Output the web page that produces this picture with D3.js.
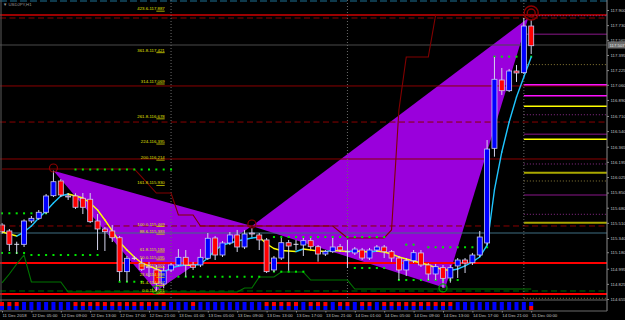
<!DOCTYPE html>
<html>
<head>
<meta charset="utf-8">
<script src="https://cdn.jsdelivr.net/npm/d3@7"></script>
<style>
html, body { margin: 0; padding: 0; background: #000; }
svg { display: block; font-family: "Liberation Sans", Arial, sans-serif; }
</style>
</head>
<body>
<div id="chart"></div>
<script>

// ---- data (USDJPY H1) ----
var opens = [
 115.486, 115.419, 115.269, 115.269, 115.531, 115.561, 115.629, 115.815, 115.980, 115.812,
 115.812, 115.786, 115.775, 115.531, 115.441, 115.419, 115.343, 114.962, 115.112, 115.056,
 115.018, 114.981, 114.824, 114.981, 115.037, 115.123, 115.037, 115.037, 115.112, 115.340,
 115.149, 115.284, 115.374, 115.239, 115.396, 115.374, 115.318, 114.981, 115.115, 115.287,
 115.269, 115.261, 115.310, 115.242, 115.160, 115.186, 115.242, 115.186, 115.172, 115.205,
 115.115, 115.205, 115.239, 115.186, 115.115, 114.981, 115.085, 115.172, 115.037, 114.936,
 115.007, 114.891, 115.026, 115.093, 115.063, 115.149, 115.284, 116.347, 117.114, 116.994,
 117.215, 117.196, 117.720];
var highs = [
 115.508, 115.441, 115.298, 115.550, 115.587, 115.654, 115.834, 116.096, 116.002, 115.845,
 115.842, 115.845, 115.845, 115.609, 115.463, 115.486, 115.362, 115.138, 115.138, 115.115,
 115.071, 115.037, 115.026, 115.059, 115.216, 115.205, 115.071, 115.216, 115.396, 115.362,
 115.306, 115.407, 115.430, 115.430, 115.452, 115.396, 115.340, 115.138, 115.340, 115.318,
 115.318, 115.340, 115.340, 115.261, 115.205, 115.340, 115.273, 115.318, 115.239, 115.228,
 115.228, 115.261, 115.261, 115.205, 115.138, 115.115, 115.205, 115.205, 115.059, 115.048,
 115.037, 115.037, 115.115, 115.115, 115.172, 115.419, 116.440, 117.372, 117.249, 117.238,
 117.282, 117.810, 117.788];
var lows = [
 115.385, 115.194, 115.160, 115.239, 115.508, 115.542, 115.609, 115.800, 115.800, 115.767,
 115.666, 115.609, 115.508, 115.205, 115.194, 115.295, 114.857, 114.849, 115.093, 114.970,
 114.902, 114.745, 114.775, 114.958, 115.026, 114.905, 114.981, 115.014, 115.093, 115.093,
 115.127, 115.261, 115.183, 115.216, 115.351, 115.205, 114.947, 114.958, 115.093, 114.973,
 115.205, 115.138, 115.216, 115.074, 115.138, 115.172, 115.183, 115.003, 115.149, 115.093,
 115.093, 115.183, 115.115, 115.071, 114.868, 114.913, 115.059, 115.014, 114.868, 114.868,
 114.779, 114.838, 114.891, 114.947, 115.037, 115.127, 115.261, 116.253, 116.946, 116.979,
 117.092, 117.181, 117.406];
var closes = [
 115.411, 115.269, 115.269, 115.531, 115.561, 115.629, 115.812, 115.972, 115.823, 115.806,
 115.685, 115.685, 115.523, 115.441, 115.411, 115.343, 114.962, 115.112, 115.112, 114.989,
 115.014, 114.831, 114.970, 115.037, 115.123, 115.037, 115.011, 115.123, 115.337, 115.149,
 115.284, 115.374, 115.239, 115.385, 115.390, 115.318, 114.962, 115.115, 115.287, 115.250,
 115.269, 115.310, 115.242, 115.160, 115.186, 115.239, 115.205, 115.186, 115.216, 115.115,
 115.205, 115.239, 115.186, 115.115, 114.981, 115.085, 115.175, 115.037, 114.936, 115.018,
 114.887, 115.007, 115.093, 115.059, 115.149, 115.351, 116.339, 117.122, 116.994, 117.215,
 117.193, 117.720, 117.499];

// moving average (yellow when falling, blue when rising)
var maLine = [
 115.407, 115.385, 115.362, 115.407, 115.475, 115.565, 115.643, 115.733, 115.812, 115.834,
 115.812, 115.789, 115.733, 115.654, 115.542, 115.419, 115.295, 115.205, 115.127, 115.059,
 115.026, 114.992, 114.958, 115.003, 115.026, 115.037, 115.031, 115.048, 115.115, 115.205,
 115.261, 115.284, 115.306, 115.323, 115.340, 115.351, 115.273, 115.222, 115.200, 115.194,
 115.188, 115.216, 115.205, 115.194, 115.188, 115.200, 115.194, 115.188, 115.194, 115.188,
 115.183, 115.194, 115.183, 115.160, 115.127, 115.104, 115.082, 115.059, 115.037, 115.009,
 114.986, 114.975, 114.992, 115.026, 115.071, 115.127, 115.261, 115.879, 116.306, 116.642,
 116.923, 117.148, 117.372];

// channel step lines
var upperChannel = [
 116.115, 116.115, 116.115, 116.115, 116.115, 116.115, 116.115, 116.115, 116.115, 116.115,
 116.115, 116.115, 116.115, 116.115, 116.115, 116.115, 116.115, 116.115, 116.115, 116.025,
 115.935, 115.845, 115.845, 115.845, 115.598, 115.598, 115.598, 115.475, 115.475, 115.475,
 115.475, 115.475, 115.475, 115.475, 115.475, 115.475, 115.475, 115.475, 115.475, 115.475,
 115.475, 115.475, 115.475, 115.475, 115.475, 115.475, 115.407, 115.340, 115.340, 115.340,
 115.340, 115.340, 115.340, 115.430, 116.777, 117.372, 117.372, 117.372, 117.372, 117.844,
 117.844, 117.844, 117.844, 117.844, 117.844, 117.844, 117.844, 117.844, 117.844, 117.844,
 117.844, 117.844, 117.844];
var lowerChannel = [
 114.835, 114.936, 115.048, 115.149, 114.846, 114.846, 114.846, 114.846, 114.846, 114.734,
 114.734, 114.734, 114.734, 114.734, 114.734, 114.734, 114.734, 114.734, 114.734, 114.734,
 114.734, 114.734, 114.734, 114.734, 114.734, 114.734, 114.734, 114.734, 114.734, 114.734,
 114.734, 114.734, 114.734, 114.779, 114.779, 114.902, 114.902, 114.902, 114.958, 114.958,
 114.958, 114.958, 114.868, 114.868, 114.868, 114.868, 114.868, 114.868, 114.767, 114.767,
 114.767, 114.767, 114.767, 114.767, 114.767, 114.767, 114.767, 114.767, 114.767, 114.767,
 114.767, 114.767, 114.767, 114.767, 114.767, 114.767, 114.767, 114.767, 114.767, 114.767,
 114.767, 114.767, 114.767];

// green dot levels (null = no dot)
var upperDots = [
 115.617, 115.617, 115.617, 115.617, 115.617, 115.617, 115.617, null, null, null,
 116.109, 116.109, 116.109, 116.109, 116.109, 116.109, 116.109, 116.109, 116.109, 116.109,
 116.109, 116.109, 116.109, 116.109, null, null, null, null, null, null,
 null, null, null, null, null, null, null, 115.351, 115.351, 115.351,
 115.351, 115.351, 115.351, 115.351, 115.351, 115.351, 115.351, 115.351, 115.351, 115.351,
 115.351, 115.351, 115.351, null, null, 115.265, 115.265, null, 115.236, 115.236,
 115.236, 115.236, 115.236, 115.236, 115.236, 115.236, 115.236, 117.376, 117.376, 117.376,
 117.376, 117.376, 117.376];
var lowerDots = [
 115.172, 115.172, 115.172, 115.172, 115.149, 115.149, 115.149, 115.149, 115.149, 115.149,
 115.149, 115.149, 115.149, 115.149, null, null, 114.849, 114.849, 114.849, 114.849,
 null, null, null, null, 114.905, 114.905, 114.905, 114.905, 114.905, 114.905,
 114.905, 114.905, 114.905, 114.905, 114.905, 114.905, null, 114.962, 114.962, 114.962,
 114.962, 114.962, null, null, null, null, null, null, 115.003, 115.003,
 115.003, 115.003, 115.003, null, 114.868, 114.868, 114.868, 114.868, 114.868, 114.868,
 114.868, 114.868, 114.868, null, null, null, null, null, null, null,
 null, null, null];

// lower window: 1 = red, 0 = blue
var subTop = [
 1, 1, 1, 0, 0, 0, 0, 0, 0, 0,
 1, 1, 1, 1, 1, 1, 1, 1, 1, 1,
 1, 1, 1, 0, 0, 0, 1, 0, 0, 0,
 0, 0, 0, 0, 0, 0, 1, 1, 1, 1,
 1, 0, 1, 1, 1, 0, 1, 1, 0, 1,
 1, 0, 1, 1, 1, 1, 1, 1, 1, 1,
 1, 1, 0, 0, 0, 0, 0, 0, 0, 0,
 0, 0, 0];
var subBottom = [
 0, 0, 0, 0, 0, 0, 0, 0, 0, 0,
 0, 0, 0, 0, 0, 0, 0, 0, 0, 0,
 0, 0, 0, 0, 0, 0, 0, 0, 0, 0,
 0, 0, 0, 0, 0, 0, 0, 0, 0, 0,
 0, 0, 0, 0, 0, 0, 0, 0, 0, 0,
 0, 0, 0, 0, 0, 0, 0, 0, 0, 0,
 0, 0, 0, 0, 0, 0, 0, 0, 0, 0,
 0, 0, 1];

// harmonic pattern X A B C D
var patternIdx   = [7, 21, 34, 71.6, 60.3];
var patternPrice = [116.096, 114.745, 115.475, 117.810, 114.779];

// fibonacci levels
var fibRatios = ["423.6", "361.8", "314", "261.8", "224", "200", "161.8",
                 "100.0", "88.6", "61.8", "50.0", "38.2", "23.6", "11.4", "0.0"];
var fibPrices = [117.887, 117.421, 117.069, 116.678, 116.395, 116.214, 115.930,
                 115.469, 115.383, 115.183, 115.095, 115.007, 114.898, 114.807, 114.721];

// horizontal lines across the chart
var topDashed     = [118.001];
var weekHigh      = [117.844];
var darkRedSolid  = [117.047, 116.227];
var darkRedDashed = [117.810, 116.642, 115.475];
var steelLine     = [115.396];
var redThick      = [115.059, 114.711];
var greenDashed   = [114.745];
var bidPrice      = 117.507;

// short pivot lines on the right (last day)
var sideDotPurple  = [117.836, 116.724, 116.171, 115.606];
var sideDarkPurple = [117.627, 116.504, 115.823];
var sideDotOlive   = [117.287, 115.980, 114.663];
var sideMagenta    = [117.061, 116.938];
var sideYellow     = [116.819, 116.448];
var sideOlive      = [116.073, 115.512];

// markers
var redCircleIdx   = [7, 34];
var redCirclePrice = [116.126, 115.497];
var targetIdx = 72, targetPrice = 117.866;
var greenCircleIdx   = [21, 60];
var greenCirclePrice = [114.757, 114.779];

var daySeparators = [23, 47, 71];

// axes
var priceTicks = [117.900, 117.730, 117.565, 117.395, 117.225, 117.060, 116.890, 116.710,
                  116.540, 116.365, 116.195, 116.025, 115.850, 115.680, 115.510, 115.340,
                  115.180, 114.995, 114.825, 114.655];
var timeIdx = [0, 4, 8, 12, 16, 20, 24, 28, 32, 36, 40, 44, 48, 52, 56, 60, 64, 68, 72];
var timeLabels = ["11 Dec 2018", "12 Dec 05:00", "12 Dec 09:00", "12 Dec 13:00", "12 Dec 17:00",
                  "12 Dec 21:00", "13 Dec 01:00", "13 Dec 05:00", "13 Dec 09:00", "13 Dec 13:00",
                  "13 Dec 17:00", "13 Dec 21:00", "14 Dec 01:00", "14 Dec 05:00", "14 Dec 09:00",
                  "14 Dec 13:00", "14 Dec 17:00", "14 Dec 21:00", "15 Dec 00:00"];

// ---- layout ----
var width = 625, height = 320;
var axisX = 607, mainBottom = 300, subBottomY = 311;
var fs = 4.3;

var x = d3.scaleLinear().domain([0, 72]).range([2, 531.2]);
var y = d3.scaleLinear().domain([114.655, 117.900]).range([299, 10]);
var ySub = d3.scaleLinear().domain([0, 2]).range([310, 302]);
var step = x(1) - x(0);
var bodyW = 5;

var svg = d3.select("#chart").append("svg")
    .attr("width", width)
    .attr("height", height);

svg.append("rect").attr("width", width).attr("height", height).attr("fill", "#000");

svg.append("defs").append("clipPath").attr("id", "mainClip")
    .append("rect").attr("x", 0).attr("y", 0)
    .attr("width", axisX).attr("height", mainBottom);

var main = svg.append("g").attr("clip-path", "url(#mainClip)");

// purple pattern triangles
var pts = patternIdx.map((d, i) => [x(d), y(patternPrice[i])]);
main.append("polygon")
    .attr("points", [pts[0], pts[1], pts[2]].join(" "))
    .attr("fill", "#9a00dc");
main.append("polygon")
    .attr("points", [pts[2], pts[3], pts[4]].join(" "))
    .attr("fill", "#9a00dc");

function hlines(arr, x0, x1, color, w, dash) {
    main.selectAll(null).data(arr).enter().append("line")
        .attr("x1", x0).attr("x2", x1)
        .attr("y1", d => y(d)).attr("y2", d => y(d))
        .attr("stroke", color)
        .attr("stroke-width", w)
        .attr("stroke-dasharray", dash || null);
}

// full width levels
hlines(topDashed, 0, axisX, "#1f7396", 1, "7,3");
hlines(weekHigh, 0, axisX, "#9c0000", 2);
hlines(darkRedSolid, 0, axisX, "#8a0000", 1);
hlines(darkRedDashed, 0, axisX, "#8a0000", 1, "6,3.5");
hlines(steelLine, 0, axisX, "#3e6f82", 1);
hlines(redThick, 0, axisX, "#ff0000", 2);
hlines(greenDashed, 0, axisX, "#006a00", 1, "6,3.5");
hlines([bidPrice], 0, axisX, "#4a4a4a", 1);

// right side pivot lines
var sideX = x(71);
hlines(sideDotPurple, sideX, axisX, "#8c2c8c", 1, "1,2");
hlines(sideDarkPurple, sideX, axisX, "#5c0f5c", 1.5);
hlines(sideDotOlive, sideX, axisX, "#8a7a36", 1, "1,2");
hlines(sideMagenta, sideX, axisX, "#ff10ff", 1.5);
hlines(sideYellow, sideX, axisX, "#ffff00", 1.5);
hlines(sideOlive, sideX, axisX, "#aaa800", 2);

// day separators
main.selectAll(null).data(daySeparators).enter().append("line")
    .attr("x1", d => x(d)).attr("x2", d => x(d))
    .attr("y1", 0).attr("y2", mainBottom)
    .attr("stroke", "#6a6a6a")
    .attr("stroke-dasharray", "1,2");

// channel step lines
var idxLine = d3.line().x((d, i) => x(i)).y(d => y(d));
main.append("path").attr("d", idxLine(upperChannel))
    .attr("fill", "none").attr("stroke", "#820000").attr("stroke-width", 1.1);
main.append("path").attr("d", idxLine(lowerChannel))
    .attr("fill", "none").attr("stroke", "#007400").attr("stroke-width", 1.1);

// green dots
[upperDots, lowerDots].forEach(function(arr) {
    main.selectAll(null)
        .data(arr.map((p, i) => ({i: i, p: p})).filter(d => d.p !== null))
        .enter().append("rect")
        .attr("x", d => x(d.i) - 1).attr("y", d => y(d.p) - 1)
        .attr("width", 2).attr("height", 2)
        .attr("fill", "#00e600");
});

// moving average, coloured by direction
for (var i = 1; i < maLine.length; i++) {
    main.append("line")
        .attr("x1", x(i - 1)).attr("y1", y(maLine[i - 1]))
        .attr("x2", x(i)).attr("y2", y(maLine[i]))
        .attr("stroke", maLine[i] < maLine[i - 1] ? "#ffff00" : "#1fc6ff")
        .attr("stroke-width", 1.4)
        .attr("stroke-linecap", "round");
}

// candles
var candles = opens.map((o, i) => ({i: i, o: o, h: highs[i], l: lows[i], c: closes[i]}));
var cg = main.selectAll("g.candle").data(candles).enter().append("g").attr("class", "candle");

cg.append("line")
    .attr("x1", d => x(d.i)).attr("x2", d => x(d.i))
    .attr("y1", d => y(d.h)).attr("y2", d => y(d.l))
    .attr("stroke", "#d4d4ec").attr("stroke-width", 1);

cg.filter(d => d.o !== d.c).append("rect")
    .attr("x", d => x(d.i) - bodyW / 2)
    .attr("y", d => y(Math.max(d.o, d.c)))
    .attr("width", bodyW)
    .attr("height", d => Math.max(1, Math.abs(y(d.o) - y(d.c))))
    .attr("fill", d => d.c > d.o ? "#0000ff" : "#ff0000")
    .attr("stroke", "#c8c8f4").attr("stroke-width", 0.8);

cg.filter(d => d.o === d.c).append("line")
    .attr("x1", d => x(d.i) - bodyW / 2).attr("x2", d => x(d.i) + bodyW / 2)
    .attr("y1", d => y(d.o)).attr("y2", d => y(d.o))
    .attr("stroke", "#e0e0f0").attr("stroke-width", 1);

// circles on the pattern
main.selectAll(null).data(redCircleIdx).enter().append("circle")
    .attr("cx", d => x(d)).attr("cy", (d, i) => y(redCirclePrice[i]))
    .attr("r", 4).attr("fill", "none")
    .attr("stroke", "#8c0000").attr("stroke-width", 1.2);
[7, 4].forEach(function(r) {
    main.append("circle")
        .attr("cx", x(targetIdx)).attr("cy", y(targetPrice))
        .attr("r", r).attr("fill", "none")
        .attr("stroke", "#8c0000").attr("stroke-width", 1.4);
});
main.selectAll(null).data(greenCircleIdx).enter().append("circle")
    .attr("cx", d => x(d)).attr("cy", (d, i) => y(greenCirclePrice[i]))
    .attr("r", 4).attr("fill", "none")
    .attr("stroke", "#00a000").attr("stroke-width", 1.2);

// fibonacci level stubs and labels
var fibX0 = x(21), fibX1 = x(22) + 1;
main.selectAll(null).data(fibPrices).enter().append("line")
    .attr("x1", fibX0).attr("x2", fibX1)
    .attr("y1", d => y(d)).attr("y2", d => y(d))
    .attr("stroke", "#d8d800").attr("stroke-width", 0.8);
main.selectAll(null).data(fibPrices).enter().append("text")
    .attr("x", fibX1).attr("y", d => y(d) - 1)
    .attr("text-anchor", "end")
    .attr("font-size", fs)
    .attr("fill", "#e0e000")
    .text((d, i) => fibRatios[i] + "-" + d3.format(".3f")(d));

// symbol caption
svg.append("text").attr("x", 3).attr("y", 6)
    .attr("font-size", fs).attr("fill", "#9a9a9a")
    .text("\u25BC USDJPY,H1");

// frame
svg.append("line").attr("x1", 1).attr("x2", 1).attr("y1", 0).attr("y2", subBottomY)
    .attr("stroke", "#5a5a5a");
svg.append("line").attr("x1", axisX).attr("x2", axisX).attr("y1", 0).attr("y2", subBottomY)
    .attr("stroke", "#8a8a8a");
svg.append("line").attr("x1", 0).attr("x2", axisX).attr("y1", mainBottom).attr("y2", mainBottom)
    .attr("stroke", "#6a6a6a");
svg.append("line").attr("x1", 0).attr("x2", axisX).attr("y1", subBottomY).attr("y2", subBottomY)
    .attr("stroke", "#6a6a6a");

// lower indicator window
var sub = svg.append("g");
sub.selectAll(null).data(subTop).enter().append("rect")
    .attr("x", (d, i) => x(i) - 2).attr("width", 4)
    .attr("y", ySub(2)).attr("height", ySub(1) - ySub(2))
    .attr("fill", d => d ? "#ff0000" : "#0000ff");
sub.selectAll(null).data(subBottom).enter().append("rect")
    .attr("x", (d, i) => x(i) - 2).attr("width", 4)
    .attr("y", ySub(1)).attr("height", ySub(0) - ySub(1))
    .attr("fill", d => d ? "#ff0000" : "#0000ff");

// price axis
var yAxis = d3.axisRight(y)
    .tickValues(priceTicks)
    .tickSize(2)
    .tickPadding(1.5)
    .tickFormat(d3.format(".3f"));
var gy = svg.append("g").attr("transform", "translate(" + axisX + ",0)").call(yAxis);
gy.select(".domain").remove();
gy.selectAll("line").attr("stroke", "#8a8a8a");
gy.selectAll("text").attr("font-size", fs).attr("fill", "#c4c4c4")
    .attr("font-family", "Liberation Sans, Arial, sans-serif");

// current price box
var bidY = y(bidPrice);
svg.append("rect").attr("x", axisX + 1).attr("y", bidY - 3.5)
    .attr("width", 18).attr("height", 7).attr("fill", "#6c6c6c");
svg.append("text").attr("x", axisX + 2.5).attr("y", bidY + 1.5)
    .attr("font-size", fs).attr("fill", "#e8e8e8")
    .text(d3.format(".3f")(bidPrice));

// time axis
var xAxis = d3.axisBottom(x)
    .tickValues(timeIdx)
    .tickSize(1.5)
    .tickPadding(1)
    .tickFormat((d, i) => timeLabels[i]);
var gx = svg.append("g").attr("transform", "translate(0," + subBottomY + ")").call(xAxis);
gx.select(".domain").remove();
gx.selectAll("line").attr("stroke", "#8a8a8a");
gx.selectAll("text").attr("font-size", fs).attr("fill", "#c4c4c4")
    .attr("text-anchor", "start")
    .attr("font-family", "Liberation Sans, Arial, sans-serif");

</script>
</body>
</html>
